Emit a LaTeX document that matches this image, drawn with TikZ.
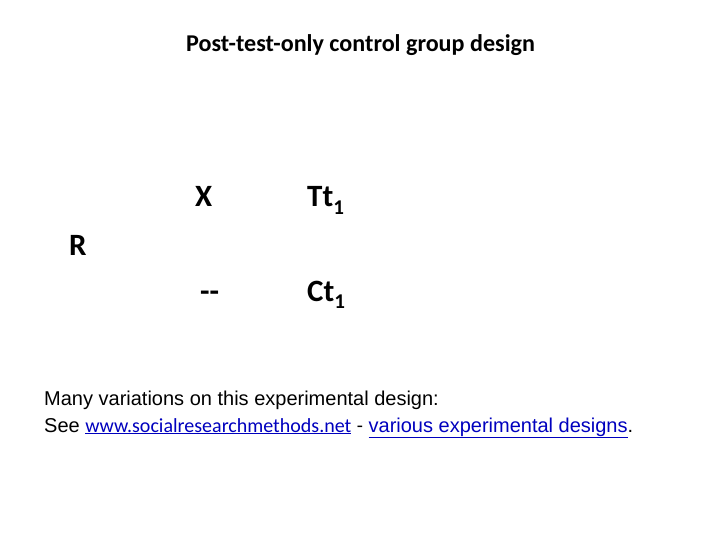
\documentclass[tikz,border=0pt]{standalone}
\usepackage{fontspec}
\setmainfont{Carlito}
\newfontfamily\arial{Liberation Sans}
\definecolor{linkblue}{RGB}{0,0,190}
\begin{document}
\begin{tikzpicture}[x=1pt,y=-1pt,
  title/.style={anchor=base west,inner sep=0pt,font=\fontsize{24.1}{28}\selectfont\bfseries},
  cell/.style={anchor=base west,inner sep=0pt,font=\fontsize{31}{35}\selectfont\bfseries},
  note/.style={anchor=base west,inner sep=0pt,font=\arial\fontsize{20}{24}\selectfont}]
\useasboundingbox[fill=white] (0,0) rectangle (720,540);
\newcommand{\subone}{\raisebox{-0.24em}{\fontsize{21}{23}\selectfont 1}}
\node[title] (t) at (186,52) {Post-test-only control group design};
\node[cell] (x) at (195,207) {X};
\node[cell] (tt) at (307,207) {Tt\subone};
\node[cell] (r) at (69,255) {R};
\node[cell] (dd) at (200,301) {{-}{-}};
\node[cell] (ct) at (307,301) {Ct\subone};
\node[note] (l1) at (44,405) {Many variations on this experimental design:};
\node[note] (l2) at (44,432) {See {\color{linkblue}\underline{\rmfamily\fontsize{20}{24}\selectfont www.socialresearchmethods.net}}\ {\rmfamily -}\ {\color{linkblue}\underline{various experimental designs}}.};
\end{tikzpicture}
\end{document}
